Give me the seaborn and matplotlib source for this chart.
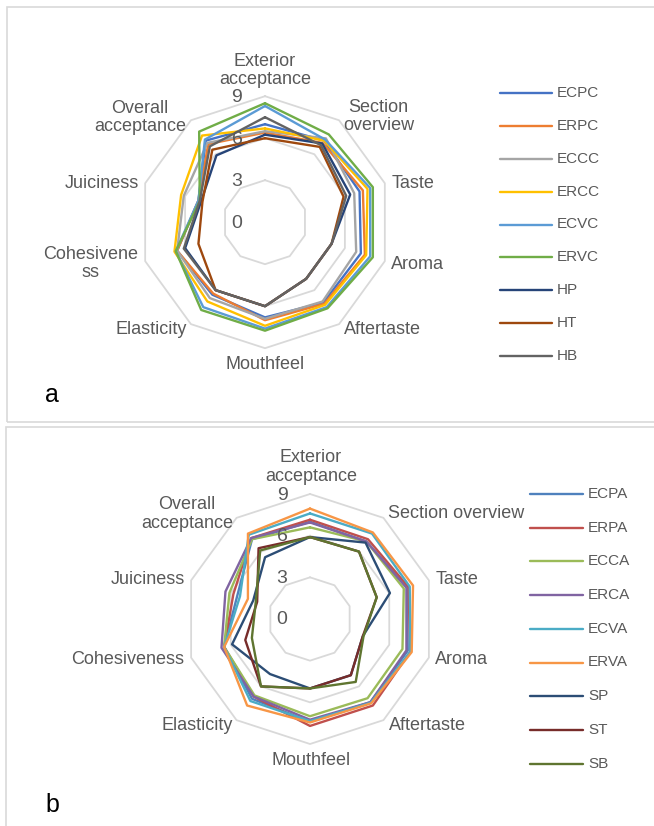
import numpy as np
import pandas as pd
import matplotlib
matplotlib.use("Agg")
import matplotlib.pyplot as plt
from matplotlib.lines import Line2D
from matplotlib.patches import Rectangle
import matplotlib.transforms as mtransforms
import seaborn as sns

sns.set_theme(style="white")
plt.rcParams['font.family'] = ['Liberation Sans', 'DejaVu Sans']

# ---------------- data ----------------
categories = ["Exterior acceptance", "Section overview", "Taste", "Aroma", "Aftertaste",
              "Mouthfeel", "Elasticity", "Cohesiveness", "Juiciness", "Overall acceptance"]
labels_a = ["Exterior\nacceptance", "Section\noverview", "Taste", "Aroma", "Aftertaste",
            "Mouthfeel", "Elasticity", "Cohesivene\nss", "Juiciness", "Overall\nacceptance"]
labels_b = ["Exterior\nacceptance", "Section overview", "Taste", "Aroma", "Aftertaste",
            "Mouthfeel", "Elasticity", "Cohesiveness", "Juiciness", "Overall\nacceptance"]
ticks = [0, 3, 6, 9]

series_a = ["ECPC", "ERPC", "ECCC", "ERCC", "ECVC", "ERVC", "HP", "HT", "HB"]
ECPC = [7.0, 7.2, 7.1, 7.2, 7.1, 6.8, 6.4, 6.6, 5.0, 7.2]
ERPC = [6.4, 7.0, 7.35, 7.5, 7.2, 7.0, 6.3, 6.6, 5.0, 6.9]
ECCC = [6.5, 7.4, 6.7, 6.85, 7.0, 6.9, 6.7, 6.6, 6.1, 7.0]
ERCC = [6.7, 7.2, 7.7, 7.6, 7.3, 7.4, 7.0, 6.8, 6.3, 7.65]
ECVC = [8.3, 7.3, 7.9, 7.9, 7.5, 7.6, 7.5, 6.7, 5.0, 7.3]
ERVC = [8.5, 7.75, 8.1, 8.1, 7.6, 7.75, 7.75, 6.7, 4.9, 8.0]
HP = [6.25, 6.95, 6.4, 5.0, 5.0, 6.0, 6.0, 6.0, 4.8, 5.9]
HT = [6.0, 6.65, 5.9, 5.0, 5.0, 6.0, 6.0, 5.0, 4.7, 6.4]
HB = [7.5, 6.8, 6.1, 5.0, 5.0, 6.0, 6.0, 6.1, 4.9, 6.7]
values_a = [ECPC, ERPC, ECCC, ERCC, ECVC, ERVC, HP, HT, HB]

series_b = ["ECPA", "ERPA", "ECCA", "ERCA", "ECVA", "ERVA", "SP", "ST", "SB"]
ECPA = [7.0, 6.9, 7.35, 7.4, 7.4, 7.4, 7.1, 6.5, 5.5, 7.1]
ERPA = [7.15, 7.1, 7.45, 7.6, 7.7, 7.7, 6.9, 6.5, 5.8, 7.2]
ECCA = [6.6, 6.9, 7.1, 7.0, 7.05, 7.0, 6.8, 6.5, 6.1, 7.1]
ERCA = [6.95, 6.9, 7.3, 7.3, 7.4, 7.25, 6.9, 6.7, 6.4, 7.2]
ECVA = [7.6, 7.6, 7.55, 7.6, 7.45, 7.35, 7.3, 6.5, 5.3, 7.5]
ERVA = [7.95, 7.7, 7.8, 7.7, 7.5, 7.45, 7.7, 6.5, 4.7, 7.6]
SP = [5.9, 6.8, 6.05, 4.0, 5.0, 5.0, 4.9, 5.9, 4.3, 5.5]
ST = [5.9, 6.0, 5.05, 4.0, 5.0, 5.0, 6.0, 4.9, 4.0, 6.3]
SB = [5.9, 6.0, 5.05, 4.05, 5.6, 5.0, 6.0, 4.4, 4.1, 6.1]
values_b = [ECPA, ERPA, ECCA, ERCA, ECVA, ERVA, SP, ST, SB]

colors_a = ["#4472C4", "#ED7D31", "#A5A5A5", "#FFC000", "#5B9BD5", "#70AD47",
            "#264478", "#9E480E", "#636363"]
colors_b = ["#4F81BD", "#C0504D", "#9BBB59", "#8064A2", "#4BACC6", "#F79646",
            "#2C4D75", "#772C2A", "#5F7530"]

# ---------------- layout helpers ----------------
W, H = 654, 826
fig = plt.figure(figsize=(W / 100, H / 100), dpi=100)
fig.patch.set_facecolor("white")


def fx(x):
    return x / W


def fy(y):
    return 1 - y / H


TXT = "#595959"
GRID = "#D9D9D9"
n = len(categories)
angles = np.linspace(0, 2 * np.pi, n, endpoint=False)
ring_angles = np.append(angles, 2 * np.pi)


def make_df(names, vals):
    rows = []
    for name, v in zip(names, vals):
        for i in range(n):
            rows.append((name, angles[i], v[i]))
        rows.append((name, 2 * np.pi, v[0]))
    return pd.DataFrame(rows, columns=["series", "theta", "value"])


def radar(cx, cy, R, names, vals, cols, labels, label_offsets):
    ax = fig.add_axes([fx(cx - R), fy(cy + R), 2 * R / W, 2 * R / H], projection="polar")
    ax.set_theta_offset(np.pi / 2)
    ax.set_theta_direction(-1)
    ax.axis("off")
    for t in ticks[1:]:
        ax.plot(ring_angles, [t] * len(ring_angles), color=GRID, lw=1.3, zorder=1)
    df = make_df(names, vals)
    sns.lineplot(data=df, x="theta", y="value", hue="series", hue_order=names,
                 palette=dict(zip(names, cols)), sort=False, estimator=None,
                 legend=False, ax=ax, linewidth=1.7, zorder=3)
    for l in ax.lines:
        l.set_clip_on(False)
    ax.set_ylim(0, ticks[-1])
    ax.set_xlim(0, 2 * np.pi)
    tr = mtransforms.offset_copy(ax.transData, fig=fig, x=-28, y=-1, units="dots")
    for t in ticks:
        ax.text(0, t, str(t), transform=tr, ha="center", va="center",
                fontsize=14, color=TXT, zorder=4)
    for lab, (dx, dy) in zip(labels, label_offsets):
        fig.text(fx(cx + dx), fy(cy + dy), lab, ha="center", va="center",
                 fontsize=13, color=TXT, linespacing=1.1)
    return ax


def legend(x0, x1, xt, y0, dy, names, cols):
    for i, (nm, c) in enumerate(zip(names, cols)):
        y = y0 + i * dy
        fig.add_artist(Line2D([fx(x0), fx(x1)], [fy(y), fy(y)], color=c, lw=1.7,
                              transform=fig.transFigure))
        fig.text(fx(xt), fy(y), nm, ha="left", va="center", fontsize=11, color=TXT)


# panel frames
fig.add_artist(Rectangle((fx(7), fy(422)), 2, (422 - 7) / H, transform=fig.transFigure,
                         fill=False, ec=GRID, lw=1.2))
fig.add_artist(Rectangle((fx(6), fy(900)), 2, (900 - 427) / H, transform=fig.transFigure,
                         fill=False, ec=GRID, lw=1.2))

off_a = [(0, -151.7), (113.5, -105.5), (148, -39), (152, 42), (117, 107),
         (0, 142), (-114, 107), (-174, 41), (-163, -39), (-125, -105)]
off_b = [(1, -152), (146, -106), (147.5, -40), (151.5, 41), (117, 106),
         (1, 141.7), (-113, 106), (-182, 41), (-162, -40), (-123, -105)]

radar(265, 222.2, 126, series_a, values_a, colors_a, labels_a, off_a)
radar(310, 619, 125, series_b, values_b, colors_b, labels_b, off_b)

legend(500, 552, 557, 93.3, 32.8, series_a, colors_a)
legend(530, 583, 588, 494, 33.7, series_b, colors_b)

fig.text(fx(52), fy(395), "a", ha="center", va="center", fontsize=18, color="black")
fig.text(fx(52), fy(805), "b", ha="center", va="center", fontsize=18, color="black")

fig.savefig("out.png", dpi=100, facecolor="white")
